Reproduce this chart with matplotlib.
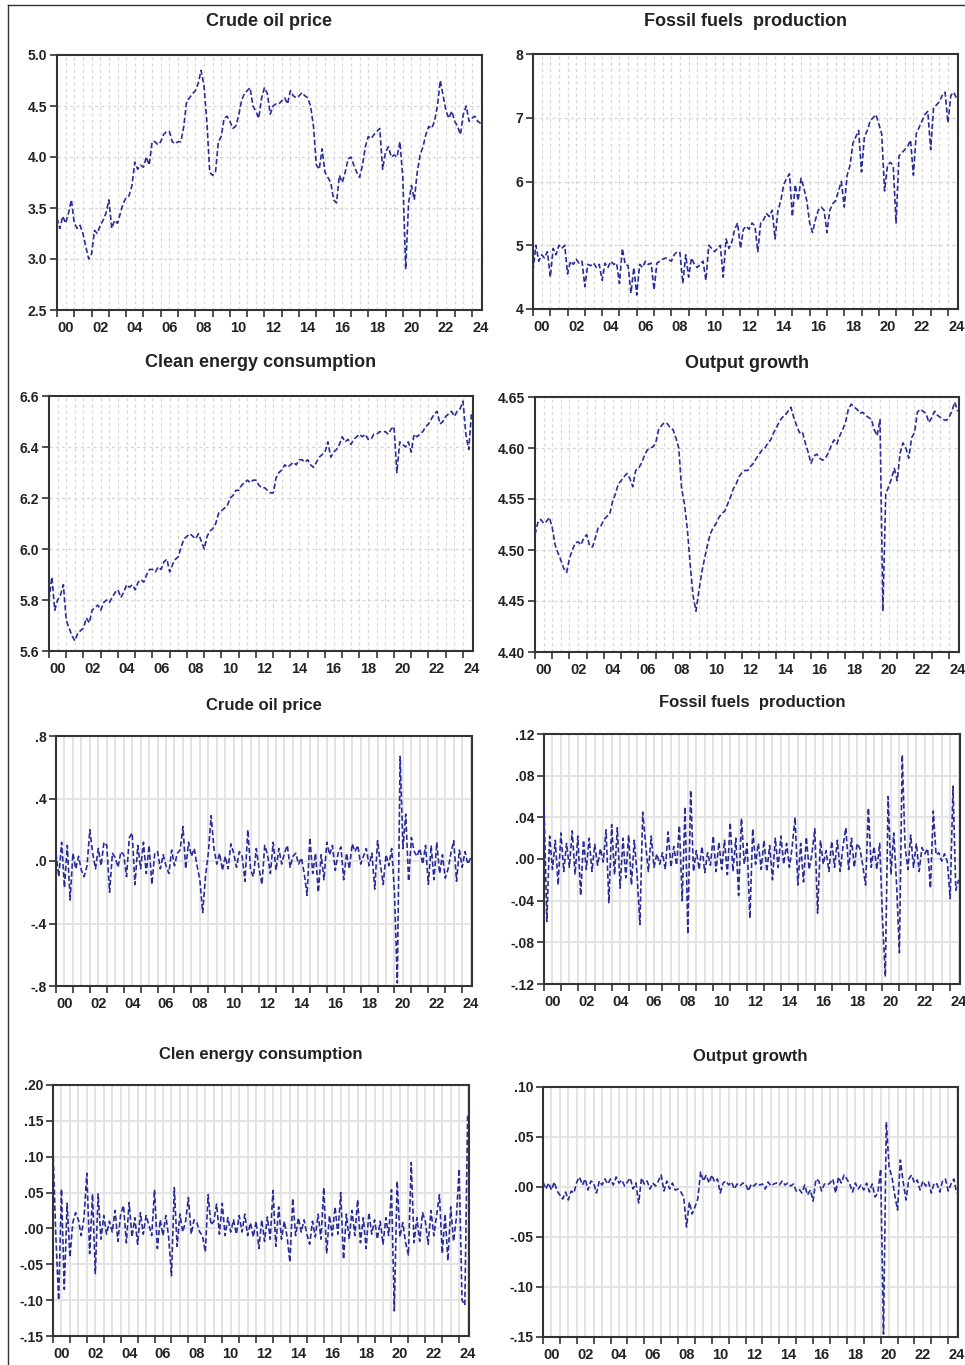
import numpy as np
import matplotlib
matplotlib.use('Agg')
import matplotlib.pyplot as plt
from matplotlib.lines import Line2D

# bimonthly readings (Jan, Mar, May, Jul, Sep, Nov), 2000 - mid 2024
crude_level = [
    3.40, 3.30, 3.42, 3.35, 3.45, 3.58,
    3.35, 3.30, 3.33, 3.25, 3.12, 3.00,
    3.05, 3.28, 3.25, 3.33, 3.38, 3.45,
    3.58, 3.30, 3.38, 3.35, 3.45, 3.55,
    3.60, 3.62, 3.72, 3.95, 3.88, 3.92,
    3.90, 4.00, 3.92, 4.15, 4.15, 4.12,
    4.15, 4.22, 4.25, 4.25, 4.15, 4.13,
    4.15, 4.15, 4.30, 4.55, 4.58, 4.62,
    4.65, 4.72, 4.85, 4.70, 4.35, 3.85,
    3.82, 3.85, 4.15, 4.20, 4.38, 4.40,
    4.35, 4.28, 4.30, 4.40, 4.55, 4.62,
    4.65, 4.68, 4.50, 4.45, 4.38, 4.58,
    4.68, 4.62, 4.42, 4.50, 4.52, 4.52,
    4.55, 4.58, 4.52, 4.65, 4.60, 4.58,
    4.60, 4.63, 4.60, 4.58, 4.50, 4.30,
    3.92, 3.88, 4.08, 3.85, 3.80, 3.75,
    3.58, 3.55, 3.82, 3.75, 3.85, 3.98,
    4.00, 3.92, 3.85, 3.80, 3.92, 4.10,
    4.20, 4.18, 4.22, 4.25, 4.28, 3.88,
    4.05, 4.10, 4.00, 4.02, 4.00, 4.15,
    3.80, 2.90, 3.55, 3.72, 3.58, 3.85,
    4.02, 4.10, 4.22, 4.30, 4.28, 4.35,
    4.50, 4.75, 4.60, 4.45, 4.38, 4.45,
    4.35, 4.30, 4.22, 4.42, 4.50, 4.35,
    4.38, 4.40, 4.35, 4.33,
]

fossil_level = [
    4.60, 5.00, 4.75, 4.85, 4.80, 4.90,
    4.50, 4.95, 4.85, 5.00, 4.95, 5.00,
    4.55, 4.75, 4.70, 4.78, 4.72, 4.75,
    4.35, 4.70, 4.68, 4.72, 4.65, 4.70,
    4.45, 4.72, 4.65, 4.75, 4.70, 4.72,
    4.40, 4.95, 4.70, 4.68, 4.25, 4.65,
    4.22, 4.70, 4.65, 4.75, 4.70, 4.72,
    4.30, 4.72, 4.75, 4.78, 4.80, 4.78,
    4.75, 4.85, 4.90, 4.88, 4.40, 4.85,
    4.50, 4.80, 4.70, 4.65, 4.70, 4.75,
    4.45, 5.00, 4.95, 4.90, 4.95, 5.00,
    4.50, 5.10, 4.95, 5.05, 5.25, 5.35,
    4.95, 5.25, 5.30, 5.25, 5.35, 5.30,
    4.90, 5.35, 5.40, 5.50, 5.45, 5.55,
    5.10, 5.55, 5.70, 5.95, 6.05, 6.12,
    5.45, 5.95, 5.70, 6.05, 5.90, 5.70,
    5.35, 5.20, 5.40, 5.55, 5.60, 5.55,
    5.20, 5.55, 5.65, 5.70, 5.85, 6.00,
    5.60, 6.10, 6.25, 6.60, 6.70, 6.80,
    6.15, 6.70, 6.80, 6.95, 7.00, 7.05,
    6.90, 6.75, 5.85, 6.25, 6.30, 6.25,
    5.35, 6.40, 6.45, 6.50, 6.55, 6.65,
    6.10, 6.75, 6.85, 6.95, 7.05, 7.10,
    6.50, 7.15, 7.20, 7.25, 7.35, 7.40,
    6.92, 7.35, 7.40, 7.30,
]

clean_level = [
    5.80, 5.89, 5.76, 5.80, 5.82, 5.86,
    5.72, 5.69, 5.66, 5.64, 5.67, 5.68,
    5.69, 5.73, 5.71, 5.76, 5.77, 5.78,
    5.76, 5.79, 5.80, 5.79, 5.81, 5.83,
    5.84, 5.81, 5.83, 5.86, 5.85, 5.86,
    5.84, 5.87, 5.88, 5.87, 5.90, 5.92,
    5.92, 5.91, 5.93, 5.92, 5.95, 5.96,
    5.91, 5.94, 5.96, 5.97, 6.01, 6.04,
    6.05, 6.06, 6.05, 6.04, 6.06, 6.03,
    6.00, 6.05, 6.07, 6.08, 6.10, 6.14,
    6.15, 6.16, 6.17, 6.20, 6.21, 6.23,
    6.23, 6.25, 6.26, 6.27, 6.26, 6.27,
    6.27, 6.25, 6.24, 6.24, 6.23, 6.22,
    6.22, 6.28, 6.30, 6.31, 6.33, 6.32,
    6.33, 6.34, 6.33, 6.35, 6.35, 6.34,
    6.35, 6.33, 6.32, 6.34, 6.36, 6.37,
    6.38, 6.42, 6.36, 6.38, 6.39, 6.41,
    6.44, 6.42, 6.43, 6.41, 6.43, 6.44,
    6.45, 6.44, 6.45, 6.43, 6.43, 6.45,
    6.45, 6.46, 6.46, 6.46, 6.45, 6.47,
    6.48, 6.30, 6.42, 6.41, 6.40, 6.42,
    6.38, 6.45, 6.44, 6.45, 6.46, 6.48,
    6.49, 6.51, 6.53, 6.54, 6.49, 6.50,
    6.52, 6.53, 6.54, 6.52, 6.54, 6.55,
    6.58, 6.45, 6.39, 6.54,
]

output_level = [
    4.515, 4.527, 4.530, 4.526, 4.528, 4.532,
    4.522, 4.505, 4.497, 4.490, 4.482, 4.478,
    4.492, 4.500, 4.507, 4.508, 4.505, 4.512,
    4.515, 4.504, 4.503, 4.512, 4.522, 4.524,
    4.530, 4.533, 4.535, 4.548, 4.555, 4.565,
    4.568, 4.572, 4.575, 4.570, 4.562, 4.578,
    4.580, 4.585, 4.592, 4.598, 4.600, 4.601,
    4.605, 4.618, 4.622, 4.625, 4.624, 4.620,
    4.618, 4.610, 4.600, 4.560, 4.545, 4.520,
    4.485, 4.455, 4.440, 4.460, 4.478, 4.492,
    4.505, 4.516, 4.522, 4.526, 4.532, 4.536,
    4.538, 4.545, 4.552, 4.560, 4.565, 4.572,
    4.576, 4.578, 4.578, 4.582, 4.585, 4.590,
    4.594, 4.598, 4.600, 4.605, 4.608, 4.615,
    4.620, 4.626, 4.630, 4.632, 4.636, 4.640,
    4.630, 4.622, 4.615, 4.616, 4.605, 4.596,
    4.585, 4.592, 4.594, 4.590, 4.588, 4.590,
    4.595, 4.602, 4.608, 4.604, 4.612, 4.618,
    4.625, 4.638, 4.643, 4.640, 4.638, 4.634,
    4.635, 4.632, 4.630, 4.628, 4.618, 4.612,
    4.628, 4.440, 4.555, 4.562, 4.570, 4.580,
    4.568, 4.595, 4.605, 4.600, 4.590, 4.610,
    4.615, 4.635, 4.638, 4.636, 4.634, 4.625,
    4.630, 4.636, 4.632, 4.630, 4.628, 4.627,
    4.630, 4.636, 4.645, 4.636,
]

crude_diff = [
    0.05, -0.10, 0.12, -0.17, 0.10, -0.25,
    0.05, -0.05, 0.03, -0.06, -0.10, -0.03,
    0.20, 0.05, -0.05, 0.08, -0.03, 0.12,
    0.10, -0.20, 0.05, 0.02, -0.04, 0.06,
    0.04, -0.10, 0.15, 0.18, -0.15, 0.10,
    -0.05, 0.12, -0.08, 0.10, -0.15, 0.05,
    0.06, -0.05, 0.04, -0.03, -0.08, 0.07,
    -0.03, 0.05, 0.07, 0.22, -0.05, 0.12,
    0.03, 0.08, -0.03, -0.12, -0.33, -0.10,
    0.05, 0.29, 0.08, -0.02, 0.05, -0.06,
    0.03, -0.05, 0.11, 0.05, -0.04, 0.06,
    0.03, -0.13, 0.20, -0.06, -0.10, 0.08,
    -0.05, -0.15, 0.10, 0.04, -0.08, 0.12,
    -0.06, 0.08, -0.02, 0.05, 0.10, -0.04,
    0.03, 0.05, -0.02, 0.02, -0.08, -0.22,
    0.15, -0.08, 0.05, -0.20, 0.04, -0.12,
    0.12, 0.04, 0.10, -0.06, 0.05, 0.09,
    -0.12, 0.05, -0.05, 0.11, 0.06, 0.10,
    -0.02, 0.03, 0.08, -0.03, 0.05, -0.18,
    0.13, -0.02, -0.15, 0.04, -0.03, 0.08,
    -0.20, -0.78, 0.67, 0.08, 0.30, -0.13,
    0.15, 0.06, 0.03, 0.08, -0.02, 0.10,
    -0.15, 0.10, -0.12, 0.12, -0.08, 0.04,
    -0.11, -0.05, 0.05, 0.13, -0.13, 0.07,
    -0.04, 0.06, -0.02, 0.02,
]

fossil_diff = [
    0.052, -0.060, 0.022, -0.010, 0.018, -0.025,
    0.025, -0.012, 0.015, -0.008, 0.027, -0.015,
    0.022, -0.035, 0.018, -0.010, 0.020, -0.012,
    0.014, -0.006, 0.010, -0.003, 0.028, -0.042,
    0.033, -0.015, 0.030, -0.028, 0.020, -0.018,
    0.023, -0.025, 0.018, -0.015, -0.063, 0.045,
    0.015, -0.012, 0.022, -0.008, 0.005, -0.005,
    0.006, -0.010, 0.026, -0.008, 0.012, -0.006,
    0.032, -0.040, 0.050, -0.072, 0.066, -0.012,
    0.008, -0.010, 0.012, -0.013, 0.006, -0.006,
    0.022, -0.012, 0.016, -0.010, 0.018, -0.015,
    0.035, -0.012, 0.020, -0.035, 0.039, -0.005,
    0.015, -0.057, 0.029, -0.005, 0.015, -0.010,
    0.018, -0.012, 0.013, -0.020, 0.020, -0.008,
    0.022, -0.005, 0.015, -0.008, 0.012, 0.040,
    -0.025, 0.015, -0.022, 0.021, -0.010, 0.005,
    0.029, -0.052, 0.018, -0.005, 0.008, -0.012,
    0.017, -0.008, 0.018, -0.012, 0.012, 0.030,
    -0.010, 0.020, -0.008, 0.015, 0.010, -0.006,
    -0.025, 0.049, -0.008, 0.012, -0.010, 0.015,
    -0.058, -0.113, 0.060, -0.015, 0.025, -0.025,
    -0.090, 0.100, 0.012, -0.010, 0.023, -0.008,
    0.015, -0.012, 0.011, 0.005, 0.010, -0.028,
    0.046, 0.004, 0.006, -0.002, 0.005, -0.003,
    -0.038, 0.070, -0.030, -0.020,
]

clean_diff = [
    0.110, -0.010, -0.100, 0.055, -0.085, 0.035,
    -0.040, 0.008, 0.022, 0.012, -0.010, 0.015,
    0.077, -0.035, 0.048, -0.063, 0.048, -0.015,
    0.018, -0.008, 0.010, -0.005, 0.025, -0.018,
    0.020, 0.032, -0.020, 0.036, -0.012, 0.015,
    -0.022, 0.022, -0.008, 0.018, 0.005, -0.010,
    0.054, -0.028, 0.012, -0.010, 0.018, -0.012,
    -0.066, 0.057, -0.025, 0.020, -0.005, 0.010,
    0.043, -0.008, 0.012, 0.008, -0.005, -0.010,
    -0.033, 0.047, 0.005, 0.010, 0.034, -0.008,
    0.035, -0.010, 0.015, -0.005, 0.012, -0.008,
    0.018, -0.005, 0.020, -0.010, 0.008, -0.012,
    0.010, -0.028, 0.012, -0.018, 0.016, -0.015,
    0.053, -0.025, 0.030, -0.015, 0.010, -0.012,
    -0.047, 0.042, -0.010, 0.015, -0.005, 0.012,
    -0.008, -0.022, 0.010, -0.012, 0.020, -0.015,
    0.057, -0.035, 0.018, -0.010, 0.030, -0.008,
    0.050, -0.043, 0.020, -0.015, 0.025, -0.010,
    0.040, -0.020, 0.015, -0.028, 0.022, -0.008,
    0.012, -0.015, 0.010, -0.022, 0.015, -0.010,
    0.054, -0.115, 0.066, -0.012, 0.008, -0.020,
    -0.037, 0.092, -0.020, 0.015, -0.018, 0.022,
    0.010, -0.022, 0.025, -0.010, 0.018, 0.047,
    -0.035, 0.020, -0.045, 0.030, -0.018, 0.015,
    0.083, -0.100, -0.107, 0.160,
]

output_diff = [
    0.005, -0.002, 0.004, -0.003, 0.005, -0.004,
    -0.008, -0.012, -0.005, -0.013, -0.004, -0.006,
    0.005, 0.010, 0.002, 0.008, -0.003, 0.006,
    0.004, -0.006, 0.006, 0.002, 0.008, 0.003,
    0.008, 0.002, 0.010, 0.004, 0.007, 0.001,
    0.005, 0.009, -0.002, 0.004, -0.016, 0.009,
    0.003, 0.006, -0.002, 0.004, 0.001, 0.006,
    0.012, -0.004, 0.006, -0.002, 0.004, -0.003,
    -0.002, -0.005, -0.010, -0.040, -0.015, -0.027,
    -0.020, -0.012, 0.015, 0.006, 0.012, 0.004,
    0.012, 0.005, 0.008, -0.006, 0.004, 0.006,
    0.002, 0.005, -0.002, 0.003, 0.001, 0.004,
    0.003, -0.004, 0.003, 0.001, 0.004, 0.002,
    0.003, -0.002, 0.005, 0.001, 0.003, 0.004,
    0.002, 0.006, 0.002, 0.004, 0.001, 0.003,
    -0.004, -0.002, -0.006, 0.002, -0.008, -0.003,
    -0.014, 0.008, 0.006, -0.004, 0.003, 0.002,
    0.004, 0.008, -0.006, 0.010, 0.004, 0.012,
    0.008, 0.003, -0.005, 0.004, -0.002, 0.002,
    -0.003, 0.004, -0.005, 0.003, -0.010, -0.006,
    0.018, -0.147, 0.065, 0.020, 0.010, -0.008,
    -0.023, 0.027, 0.005, -0.013, 0.008, 0.012,
    0.004, 0.007, -0.003, 0.006, 0.001, 0.005,
    -0.006, 0.004, 0.003, -0.005, 0.006, 0.008,
    -0.004, 0.003, 0.008, -0.006,
]

year_labels = ['%02d' % y for y in range(0, 25, 2)]

plt.rcParams['font.family'] = ['Liberation Sans', 'DejaVu Sans']

W, H = 965, 1365
fig = plt.figure(figsize=(W / 100, H / 100), dpi=100)

line_col = '#2a2d96'
axis_col = '#333333'


def box(l, t, r, b):
    return [l / W, 1 - b / H, (r - l) / W, (b - t) / H]


def fmt_tick(v, dec, lead):
    s = '%.*f' % (dec, abs(v) if abs(v) < 1e-9 else v)
    if not lead:
        s = s.replace('-0.', '-.').replace('0.', '.', 1) if s.startswith(('0.', '-0.')) else s
    return s


# title, data, (l, t, r, b) px, ylim, ystep, decimals, leading zero, level?, title y px
panels = [
    ('Crude oil price', crude_level, (57, 55, 482, 310), (2.5, 5.0), 0.5, 1, True, True, 22),
    ('Fossil fuels  production', fossil_level, (533, 54, 958, 309), (4, 8), 1, 0, True, True, 21),
    ('Clean energy consumption', clean_level, (49, 396, 473, 651), (5.6, 6.6), 0.2, 1, True, True, 363),
    ('Output growth', output_level, (535, 397, 959, 652), (4.40, 4.65), 0.05, 2, True, True, 364),
    ('Crude oil price', crude_diff, (56, 736, 472, 986), (-0.8, 0.8), 0.4, 1, False, False, 705),
    ('Fossil fuels  production', fossil_diff, (544, 734, 960, 984), (-0.12, 0.12), 0.04, 2, False, False, 703),
    ('Clen energy consumption', clean_diff, (53, 1085, 469, 1336), (-0.15, 0.20), 0.05, 2, False, False, 1054),
    ('Output growth', output_diff, (543, 1087, 958, 1337), (-0.15, 0.10), 0.05, 2, False, False, 1057),
]

for title, vals, (l, t, r, b), ylim, ystep, dec, lead, level, ty in panels:
    ax = fig.add_axes(box(l, t, r, b))
    x = 2000 + np.arange(len(vals)) / 6.0
    ax.set_xlim(2000, 2024.58)
    ax.set_ylim(*ylim)

    # grid
    if level:
        gkw = dict(color='#d6d6d6', lw=0.9, dashes=(2.5, 2.5), zorder=0)
    else:
        gkw = dict(color='#e2e2e2', lw=1.3, zorder=0)
    for gx in np.arange(2000.5, 2024.6, 0.5):
        ax.axvline(gx, **gkw)
    yt = np.arange(ylim[0], ylim[1] + ystep / 2, ystep)
    for gy in yt[1:-1]:
        ax.axhline(gy, **gkw)

    ax.plot(x, vals, color=line_col, lw=1.2, dashes=(3.2, 1.6), zorder=3)

    ax.set_yticks(yt)
    ax.set_yticklabels([fmt_tick(v, dec, lead) for v in yt])
    ax.set_xticks(np.arange(2000, 2025, 1))
    ax.set_xticklabels([])
    ax.set_xticks(np.arange(2000.5, 2025, 2), minor=True)
    ax.set_xticklabels(year_labels, minor=True)

    ax.tick_params(axis='y', which='major', direction='out', length=5, width=1.2,
                   color=axis_col, labelsize=10, pad=2, labelcolor='#222222')
    ax.tick_params(axis='x', which='major', direction='out', length=5, width=1.2,
                   color=axis_col)
    ax.tick_params(axis='x', which='minor', length=0, labelsize=10.5, pad=8,
                   labelcolor='#222222')
    ax.tick_params(axis='y', which='minor', left=False)
    for lab in ax.get_yticklabels() + ax.get_xticklabels(minor=True):
        lab.set_fontweight('bold')
    for sp in ax.spines.values():
        sp.set_color(axis_col)
        sp.set_linewidth(1.5)

    fig.text((l + r) / 2 / W, 1 - ty / H, title, ha='center', va='center',
             fontsize=13 if level else 12, fontweight='bold', color='#222222')

# outer frame lines (top and left)
fig.add_artist(Line2D([8 / W, 1], [1 - 5 / H, 1 - 5 / H], color=axis_col, lw=1.0))
fig.add_artist(Line2D([8 / W, 8 / W], [0, 1 - 5 / H], color=axis_col, lw=1.0))

fig.savefig('out.png', dpi=100)
